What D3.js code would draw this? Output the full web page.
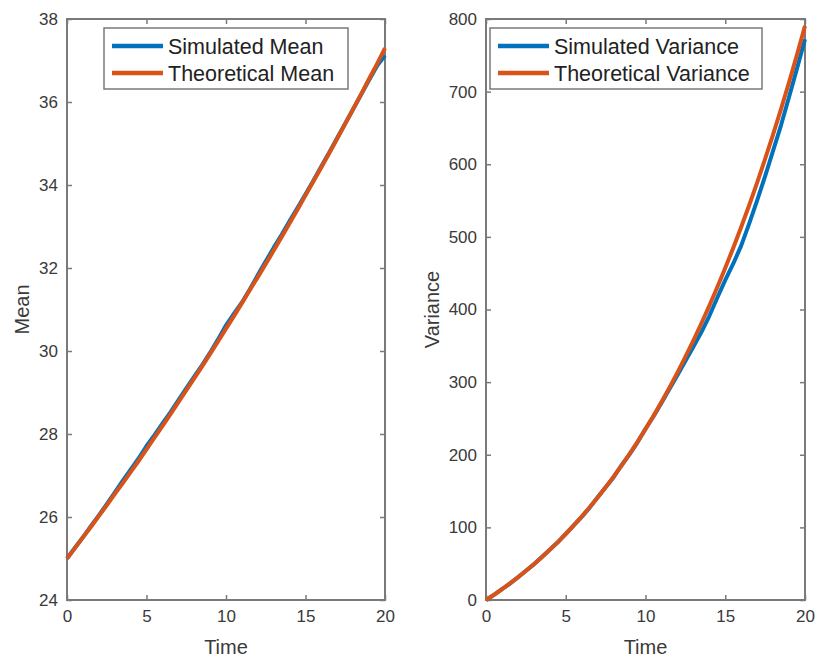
<!DOCTYPE html>
<html>
<head>
<meta charset="utf-8">
<script src="https://cdn.jsdelivr.net/npm/d3@7"></script>
<style>
  html, body { margin: 0; padding: 0; background: #fff; }
  svg { display: block; }
  text { font-family: "Liberation Sans", Arial, Helvetica, sans-serif; }
</style>
</head>
<body>
<svg id="chart" width="816" height="658"></svg>
<script>
// ---- data ----
const time = [0,0.5,1,1.5,2,2.5,3,3.5,4,4.5,5,5.5,6,6.5,7,7.5,8,8.5,9,9.5,10,
  10.5,11,11.5,12,12.5,13,13.5,14,14.5,15,15.5,16,16.5,17,17.5,18,18.5,19,19.5,20];

const simulatedMean = [25.00,25.26,25.51,25.78,26.04,26.31,26.59,26.87,27.14,27.41,27.71,
  27.97,28.25,28.52,28.81,29.10,29.38,29.66,29.96,30.28,30.62,
  30.90,31.17,31.49,31.83,32.16,32.49,32.80,33.13,33.45,33.78,
  34.11,34.45,34.79,35.14,35.48,35.83,36.18,36.53,36.87,37.12];

const theoreticalMean = [25.00,25.25,25.51,25.76,26.02,26.28,26.55,26.81,27.08,27.35,27.63,
  27.91,28.19,28.47,28.76,29.05,29.34,29.63,29.93,30.23,30.54,
  30.84,31.15,31.47,31.78,32.10,32.42,32.75,33.08,33.41,33.75,
  34.09,34.43,34.77,35.12,35.48,35.83,36.19,36.56,36.92,37.30];

const simulatedVariance = [0,7.1,14.9,22.6,31.3,40.2,49.0,59.3,69.4,79.5,91.2,
  102.9,114.5,127.2,141.6,155.4,169.1,185.6,200.5,217.1,235.8,
  252.7,271.2,290.5,309.4,329.0,348.8,368.5,391.0,416.2,440.5,
  463.0,488.0,518.3,550.2,583.6,618.7,654.0,692.5,732.0,772.0];

const theoreticalVariance = [0,7.2,14.8,22.8,31.2,40.0,49.2,58.9,69.1,79.7,90.9,
  102.6,114.8,127.7,141.1,155.1,169.8,185.1,201.1,217.8,235.3,
  253.5,272.5,292.4,313.1,334.7,357.2,380.7,405.1,430.6,457.2,
  484.8,513.6,543.6,574.8,607.3,641.1,676.3,712.9,750.9,790.5];

const xTicks = [0,5,10,15,20];
const meanTicks = [24,26,28,30,32,34,36,38];
const varianceTicks = [0,100,200,300,400,500,600,700,800];

const panels = [
  { x0: 67, x1: 385, yDomain: [24,38], yTicks: meanTicks, yLabel: "Mean", yLabelOffset: 45,
    sim: simulatedMean, theo: theoreticalMean,
    legend: ["Simulated Mean","Theoretical Mean"], legendW: 244, legendDx: 37 },
  { x0: 486, x1: 805, yDomain: [0,800], yTicks: varianceTicks, yLabel: "Variance", yLabelOffset: 54,
    sim: simulatedVariance, theo: theoreticalVariance,
    legend: ["Simulated Variance","Theoretical Variance"], legendW: 272, legendDx: 4 }
];

const BLUE = "#0072BD", ORANGE = "#D95319";
const AXIS = "#7a7a7a", TEXT = "#3a3a3a";
const plotTop = 19, plotBottom = 600;

const svg = d3.select("#chart");

panels.forEach(p => {
  const x = d3.scaleLinear().domain([0,20]).range([p.x0, p.x1]);
  const y = d3.scaleLinear().domain(p.yDomain).range([plotBottom, plotTop]);
  const g = svg.append("g");

  const styleAxis = sel => {
    sel.select(".domain").remove();
    sel.selectAll(".tick line").attr("stroke", AXIS).attr("stroke-width", 1.5);
    sel.selectAll(".tick text").attr("fill", TEXT)
      .style("font-size", "17px").style("font-family", '"Liberation Sans", Arial, sans-serif');
  };
  g.append("g").attr("transform", `translate(0,${plotBottom})`)
    .call(d3.axisBottom(x).tickValues(xTicks).tickSize(-5).tickPadding(10).tickFormat(d3.format("d")))
    .call(styleAxis);
  g.append("g").attr("transform", `translate(0,${plotTop})`)
    .call(d3.axisTop(x).tickValues(xTicks).tickSize(-5).tickFormat(""))
    .call(styleAxis);
  g.append("g").attr("transform", `translate(${p.x0},0)`)
    .call(d3.axisLeft(y).tickValues(p.yTicks).tickSize(-5).tickPadding(9).tickFormat(d3.format("d")))
    .call(styleAxis);
  g.append("g").attr("transform", `translate(${p.x1},0)`)
    .call(d3.axisRight(y).tickValues(p.yTicks).tickSize(-5).tickFormat(""))
    .call(styleAxis);

  g.append("rect").attr("x", p.x0).attr("y", plotTop)
    .attr("width", p.x1 - p.x0).attr("height", plotBottom - plotTop)
    .attr("fill", "none").attr("stroke", AXIS).attr("stroke-width", 2);

  const line = vals => d3.line().x((d,i) => x(time[i])).y(d => y(d))(vals);
  g.append("path").attr("d", line(p.sim)).attr("fill", "none")
    .attr("stroke", BLUE).attr("stroke-width", 4).attr("stroke-linejoin", "round");
  g.append("path").attr("d", line(p.theo)).attr("fill", "none")
    .attr("stroke", ORANGE).attr("stroke-width", 4).attr("stroke-linejoin", "round");

  g.append("text").attr("x", (p.x0 + p.x1) / 2).attr("y", 654)
    .attr("text-anchor", "middle").attr("fill", TEXT).style("font-size", "20px").text("Time");
  g.append("text")
    .attr("transform", `translate(${p.x0 - p.yLabelOffset + 7},${(plotTop + plotBottom) / 2}) rotate(-90)`)
    .attr("text-anchor", "middle").attr("fill", TEXT).style("font-size", "20px").text(p.yLabel);

  const lx = p.x0 + p.legendDx, ly = 28;
  const lg = g.append("g");
  lg.append("rect").attr("x", lx).attr("y", ly).attr("width", p.legendW).attr("height", 61)
    .attr("fill", "#fff").attr("stroke", AXIS).attr("stroke-width", 1.5);
  [[BLUE, p.legend[0]], [ORANGE, p.legend[1]]].forEach(([c, t], i) => {
    const yy = ly + 18 + i * 27;
    lg.append("line").attr("x1", lx + 8).attr("x2", lx + 59).attr("y1", yy).attr("y2", yy)
      .attr("stroke", c).attr("stroke-width", 4.5);
    lg.append("text").attr("x", lx + 64).attr("y", yy + 7.5).attr("fill", "#222")
      .style("font-size", "21.5px").text(t);
  });
});
</script>
</body>
</html>
